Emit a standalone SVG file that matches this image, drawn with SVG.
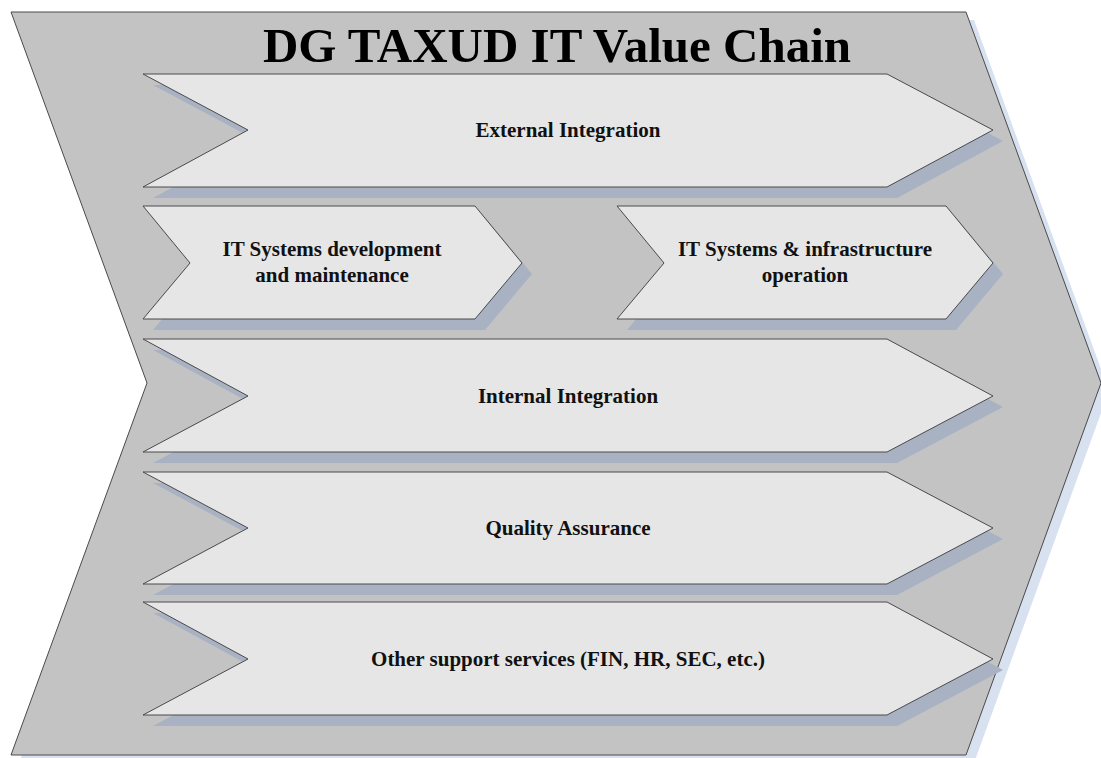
<svg xmlns="http://www.w3.org/2000/svg" width="1101" height="758" viewBox="0 0 1101 758">
<style>
.bg{fill:#c3c3c3;stroke:#4a4a4a;stroke-width:1}
.bgsh{fill:#d7e1f0}
.box{fill:#e6e6e6;stroke:#4a4a4a;stroke-width:1}
.sh{fill:#a8b2c3}
.lbl{font-family:"Liberation Serif","Times New Roman",serif;font-weight:bold;font-size:21px;fill:#111;text-anchor:middle}
.title{font-family:"Liberation Serif","Times New Roman",serif;font-weight:bold;font-size:49px;fill:#000;text-anchor:middle}
</style>
<rect width="1101" height="758" fill="#ffffff"/>
<g id="value-chain">
<polygon class="bgsh" points="19,20 974,20 1109,391 974,763 19,763 155,391"/>
<polygon class="bg" points="11,12 966,12 1101,383 966,755 11,755 147,383"/>
<text class="title" x="557" y="62">DG TAXUD IT Value Chain</text>
</g>
<g id="external-integration">
<polygon class="sh" points="153,85 897,85 1003,141 897,198 153,198 258,141"/>
<polygon class="box" points="143,74 887,74 993,130 887,187 143,187 248,130"/>
<text class="lbl" x="568" y="137">External Integration</text>
</g>
<g id="it-dev">
<polygon class="sh" points="153,217 485,217 532,274 485,330 153,330 200,274"/>
<polygon class="box" points="143,206 475,206 522,263 475,319 143,319 190,263"/>
<text class="lbl" x="332" y="256">IT Systems development</text>
<text class="lbl" x="332" y="282">and maintenance</text>
</g>
<g id="it-ops">
<polygon class="sh" points="627,217 956,217 1003,274 956,330 627,330 674,274"/>
<polygon class="box" points="617,206 946,206 993,263 946,319 617,319 664,263"/>
<text class="lbl" x="805" y="256">IT Systems &amp; infrastructure</text>
<text class="lbl" x="805" y="282">operation</text>
</g>
<g id="internal-integration">
<polygon class="sh" points="153,350 897,350 1003,407 897,463 153,463 258,407"/>
<polygon class="box" points="143,339 887,339 993,396 887,452 143,452 248,396"/>
<text class="lbl" x="568" y="403">Internal Integration</text>
</g>
<g id="quality-assurance">
<polygon class="sh" points="153,483 897,483 1003,539 897,595 153,595 258,539"/>
<polygon class="box" points="143,472 887,472 993,528 887,584 143,584 248,528"/>
<text class="lbl" x="568" y="535">Quality Assurance</text>
</g>
<g id="other-support">
<polygon class="sh" points="153,613 897,613 1003,670 897,726 153,726 258,670"/>
<polygon class="box" points="143,602 887,602 993,659 887,715 143,715 248,659"/>
<text class="lbl" x="568" y="666">Other support services (FIN, HR, SEC, etc.)</text>
</g>
<g id="connectors"></g>
</svg>
